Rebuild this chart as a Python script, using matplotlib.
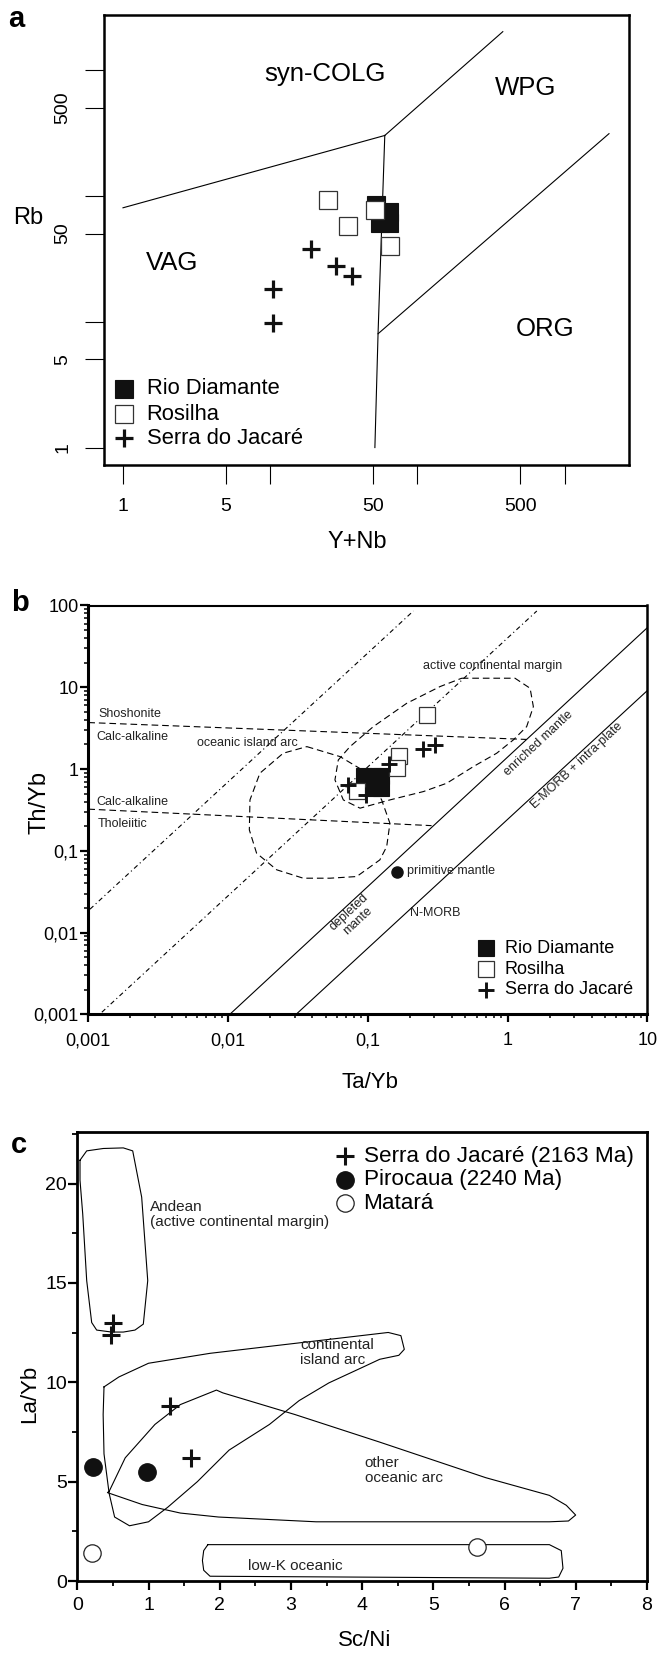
import matplotlib
matplotlib.use("Agg")
import matplotlib.pyplot as plt
from matplotlib.ticker import FixedLocator, NullFormatter

plt.rcParams['font.family'] = ['Liberation Sans', 'DejaVu Sans']

W, H = 660, 1657

# ---------- a: Rb vs Y+Nb ----------
rio_a_x = [52.2, 63.9, 63.9, 55.6]
rio_a_y = [83.8, 74.1, 60.6, 60.6]
ros_a_x = [24.8, 33.9, 51.4, 65.0]
ros_a_y = [93.0, 57.4, 76.4, 39.6]
sj_a_x = [18.9, 27.9, 36.0, 10.5, 10.5]
sj_a_y = [37.5, 27.5, 23.0, 18.3, 9.75]

vag_colg = ([1, 60], [80, 300])
colg_wpg = ([60, 380], [300, 2000])
vag_wpg = ([60, 54, 51.4], [300, 8, 1])
wpg_org = ([54, 2000], [8, 310])

a_ticks = [1, 5, 10, 50, 100, 500, 1000]
a_ticklabels = ['1', '5', '', '50', '', '500', '']

# ---------- b: Th/Yb vs Ta/Yb ----------
rio_b_x = [0.0939, 0.1089, 0.1243, 0.1243, 0.1089, 0.097]
rio_b_y = [0.823, 0.823, 0.823, 0.587, 0.587, 0.621]
ros_b_x = [0.267, 0.167, 0.161, 0.0842]
ros_b_y = [4.58, 1.46, 1.02, 0.545]
sj_b_x = [0.0726, 0.097, 0.1426, 0.249, 0.303]
sj_b_y = [0.639, 0.482, 1.15, 1.75, 1.97]
prim_mantle = (0.161, 0.0557)

dashdot_1 = ([0.001028, 0.212], [0.0193, 85.7])
dashdot_2 = ([0.00125, 1.62], [0.00106, 85.7])
mantle_upper = ([0.0103, 10], [0.001, 53.5])
mantle_lower = ([0.0307, 10], [0.001, 9.1])
shosh_line = ([0.001, 1.37], [3.7, 2.3])
thol_line = ([0.001, 0.286], [0.323, 0.203])

ocean_arc_x = [0.0366, 0.0632, 0.0955, 0.1256, 0.144, 0.1365, 0.122, 0.0833,
               0.0537, 0.0345, 0.0223, 0.0160, 0.0142, 0.01435, 0.0169, 0.0248]
ocean_arc_y = [1.88, 1.42, 0.93, 0.419, 0.217, 0.1125, 0.0774, 0.0484,
               0.0462, 0.0462, 0.0585, 0.0935, 0.180, 0.419, 0.889, 1.56]
acm_x = [0.470, 1.13, 1.45, 1.53, 1.37, 1.10, 0.836, 0.569, 0.367, 0.250,
         0.144, 0.088, 0.0668, 0.0582, 0.0615, 0.0746, 0.1095, 0.190, 0.329]
acm_y = [12.9, 12.9, 9.72, 5.79, 3.30, 2.27, 1.56, 1.07, 0.670, 0.530,
         0.419, 0.332, 0.419, 0.736, 1.29, 1.88, 3.30, 6.37, 10.2]

b_ticks_x = [0.001, 0.01, 0.1, 1, 10]
b_labels_x = ['0,001', '0,01', '0,1', '1', '10']
b_ticks_y = [0.001, 0.01, 0.1, 1, 10, 100]
b_labels_y = ['0,001', '0,01', '0,1', '1', '10', '100']

# ---------- c: La/Yb vs Sc/Ni ----------
sj_c_x = [0.50, 0.47, 1.30, 1.60]
sj_c_y = [13.0, 12.4, 8.8, 6.2]
piro_c_x = [0.226, 0.983]
piro_c_y = [5.76, 5.50]
mat_c_x = [0.208, 5.617]
mat_c_y = [1.43, 1.73]

andean_x = [0.038, 0.132, 0.365, 0.646, 0.778, 0.904, 0.989, 0.927, 0.810,
            0.646, 0.483, 0.272, 0.202, 0.132, 0.076, 0.038]
andean_y = [21.18, 21.65, 21.77, 21.80, 21.65, 19.32, 15.12, 12.93, 12.63,
            12.53, 12.53, 12.63, 13.01, 15.12, 18.48, 20.17]
cont_arc_x = [0.375, 0.584, 1.0, 1.864, 3.055, 4.366, 4.544, 4.592, 4.515, 4.247,
              4.008, 3.532, 3.115, 2.698, 2.132, 1.686, 1.269, 1.0, 0.733, 0.524,
              0.447, 0.375, 0.363]
cont_arc_y = [9.77, 10.27, 10.96, 11.46, 11.96, 12.51, 12.35, 11.66, 11.36, 11.16,
              10.76, 9.97, 9.08, 7.88, 6.59, 5.00, 3.71, 2.98, 2.78, 3.22,
              4.41, 6.40, 8.38]
ocean_c_x = [0.447, 0.673, 1.090, 1.447, 1.954, 2.043, 3.055, 4.247, 5.736, 6.629,
             6.867, 6.998, 6.897, 6.629, 4.842, 3.353, 1.983, 1.447, 0.911, 0.423]
ocean_c_y = [4.51, 6.20, 7.88, 8.88, 9.61, 9.47, 8.38, 6.99, 5.20, 4.31,
             3.81, 3.32, 3.02, 2.98, 2.98, 2.98, 3.22, 3.42, 3.85, 4.45]
lowk_x = [1.834, 6.629, 6.796, 6.82, 6.76, 6.629, 1.864, 1.775, 1.757, 1.775]
lowk_y = [1.83, 1.83, 1.53, 0.64, 0.20, 0.14, 0.24, 0.54, 1.03, 1.53]


def px_box(left, top, right, bottom):
    return [left / W, 1 - bottom / H, (right - left) / W, (bottom - top) / H]


def fig_text(x, y, s, **kw):
    fig.text(x / W, 1 - y / H, s, ha='center', va='center', **kw)


def closed(xs, ys):
    return list(xs) + [xs[0]], list(ys) + [ys[0]]


def legend_rows(ax, rows, mx, tx, ys, size, trans):
    for (style, label), y in zip(rows, ys):
        ax.plot([mx], [y], transform=trans, clip_on=False, **style)
        ax.text(tx, y, label, transform=trans, fontsize=size, va='center', ha='left')


fig = plt.figure(figsize=(W / 100, H / 100), dpi=100)

# ================= panel a =================
ax = fig.add_axes(px_box(104, 15, 629, 465))
ax.set_xscale('log')
ax.set_yscale('log')
ax.set_xlim(0.743, 2735)
ax.set_ylim(0.727, 2712)

for xs, ys in (vag_colg, colg_wpg, vag_wpg, wpg_org):
    ax.plot(xs, ys, color='black', lw=0.8)

sq_fill = dict(marker='s', ms=13, mfc='#111111', mec='#111111', mew=0.8, ls='none')
sq_open = dict(marker='s', ms=13, mfc='white', mec='#333333', mew=0.9, ls='none')
plus_a = dict(marker='+', ms=13, mec='#111111', mew=2.3, ls='none')
ax.plot(rio_a_x, rio_a_y, **sq_fill)
ax.plot(ros_a_x, ros_a_y, **sq_open)
ax.plot(sj_a_x, sj_a_y, **plus_a)

for s, x, y in (('syn-COLG', 23.4, 918), ('WPG', 543, 719),
                ('VAG', 2.14, 28.9), ('ORG', 733, 8.7)):
    ax.text(x, y, s, fontsize=18.5, ha='center', va='center')

ax.xaxis.set_major_locator(FixedLocator(a_ticks))
ax.yaxis.set_major_locator(FixedLocator(a_ticks))
ax.xaxis.set_minor_locator(FixedLocator([]))
ax.yaxis.set_minor_locator(FixedLocator([]))
ax.set_xticklabels(a_ticklabels)
ax.set_yticklabels(a_ticklabels, rotation=90, va='center')
ax.tick_params(direction='out', length=13.5, width=0.8, labelsize=14, pad=10)
for sp in ax.spines.values():
    sp.set_linewidth(1.8)

legend_rows(ax, [(sq_fill, 'Rio Diamante'), (sq_open, 'Rosilha'), (plus_a, 'Serra do Jacaré')],
            0.0386, 0.0813, [0.169, 0.113, 0.0593], 15.8, ax.transAxes)

fig_text(16.7, 18.7, 'a', fontsize=21, fontweight='bold')
fig_text(28.3, 218.3, 'Rb', fontsize=17)
fig_text(357, 541.7, 'Y+Nb', fontsize=17)

# ================= panel b =================
bx = fig.add_axes(px_box(88.3, 605.5, 647.3, 1014.3))
bx.set_xscale('log')
bx.set_yscale('log')
bx.set_xlim(0.001, 10)
bx.set_ylim(0.001, 100)

dd = (0, (4.2, 2.8, 1.0, 2.8))
dash = (0, (6, 3.5))
thin = dict(color='black', lw=0.8)
bx.plot(*dashdot_1, ls=dd, **thin)
bx.plot(*dashdot_2, ls=dd, **thin)
bx.plot(*mantle_upper, **thin)
bx.plot(*mantle_lower, **thin)
bx.plot(*shosh_line, ls=dash, **thin)
bx.plot(*thol_line, ls=dash, **thin)
bx.plot(*closed(ocean_arc_x, ocean_arc_y), ls=dash, **thin)
bx.plot(*closed(acm_x, acm_y), ls=dash, **thin)

bx.plot([prim_mantle[0]], [prim_mantle[1]], 'o', ms=8, color='#111111')

sq_fill_b = dict(sq_fill, ms=11)
sq_open_b = dict(sq_open, ms=11)
plus_b = dict(plus_a, ms=11, mew=2.1)
bx.plot(rio_b_x, rio_b_y, **sq_fill_b)
bx.plot(ros_b_x, ros_b_y, **sq_open_b)
bx.plot(sj_b_x, sj_b_y, **plus_b)

small = dict(fontsize=9, va='center', ha='left', color='#222222')
bx.text(0.00118, 4.72, 'Shoshonite', **small)
bx.text(0.00115, 2.49, 'Calc-alkaline', **small)
bx.text(0.00597, 2.10, 'oceanic island arc', **small)
bx.text(0.00115, 0.399, 'Calc-alkaline', **small)
bx.text(0.00116, 0.213, 'Tholeiitic', **small)
bx.text(0.249, 18.2, 'active continental margin', **small)
bx.text(0.190, 0.0573, 'primitive mantle', **small)
bx.text(0.2004, 0.01755, 'N-MORB', **small)
rot = dict(fontsize=9, va='center', ha='center', rotation=43, color='#222222',
           rotation_mode='anchor')
bx.text(1.66, 2.07, 'enriched mantle', **rot)
bx.text(3.13, 1.10, 'E-MORB + intra-plate', **rot)
bx.text(0.079, 0.0156, 'depleted\nmante', linespacing=1.0, **rot)

bx.xaxis.set_major_locator(FixedLocator(b_ticks_x))
bx.yaxis.set_major_locator(FixedLocator(b_ticks_y))
minor_x = [m * 10.0 ** e for e in range(-3, 1) for m in range(2, 10)]
minor_y = [m * 10.0 ** e for e in range(-3, 2) for m in range(2, 10)]
bx.xaxis.set_minor_locator(FixedLocator(minor_x))
bx.yaxis.set_minor_locator(FixedLocator(minor_y))
bx.xaxis.set_minor_formatter(NullFormatter())
bx.yaxis.set_minor_formatter(NullFormatter())
bx.set_xticklabels(b_labels_x)
bx.set_yticklabels(b_labels_y)
bx.tick_params(which='major', direction='out', length=6, width=1.6, labelsize=13)
bx.tick_params(which='minor', direction='out', length=2.8, width=1.1)
bx.tick_params(axis='y', pad=1)
bx.tick_params(axis='x', pad=7)
for side, lw in (('left', 2.2), ('bottom', 2.2), ('top', 1.5), ('right', 1.8)):
    bx.spines[side].set_linewidth(lw)

legend_rows(bx, [(sq_fill_b, 'Rio Diamante'), (sq_open_b, 'Rosilha'), (plus_b, 'Serra do Jacaré')],
            0.7116, 0.7454, [0.161, 0.110, 0.0597], 13, bx.transAxes)

fig_text(20, 603.3, 'b', fontsize=21, fontweight='bold')
fig_text(40, 803, 'Th/Yb', fontsize=17, rotation=90)
fig_text(370, 1083, 'Ta/Yb', fontsize=16)

# ================= panel c =================
cx = fig.add_axes(px_box(77.3, 1132, 647, 1581))
cx.set_xlim(0, 8)
cx.set_ylim(0, 22.6)

for xs, ys in ((andean_x, andean_y), (cont_arc_x, cont_arc_y),
               (ocean_c_x, ocean_c_y), (lowk_x, lowk_y)):
    cx.plot(*closed(xs, ys), color='black', lw=0.8)

plus_c = dict(marker='+', ms=12.5, mec='#111111', mew=2.2, ls='none')
dot_fill = dict(marker='o', ms=12.5, mfc='#111111', mec='#111111', ls='none')
dot_open = dict(marker='o', ms=12.5, mfc='white', mec='#222222', mew=0.9, ls='none')
cx.plot(sj_c_x, sj_c_y, **plus_c)
cx.plot(piro_c_x, piro_c_y, **dot_fill)
cx.plot(mat_c_x, mat_c_y, **dot_open)

lab = dict(fontsize=11, va='center', ha='left', color='#222222', linespacing=1.1)
cx.text(1.018, 18.45, 'Andean\n(active continental margin)', **lab)
cx.text(3.127, 11.5, 'continental\nisland arc', **lab)
cx.text(4.038, 5.57, 'other\noceanic arc', **lab)
cx.text(2.40, 0.73, 'low-K oceanic', **lab)

cx.xaxis.set_major_locator(FixedLocator(range(0, 9)))
cx.xaxis.set_minor_locator(FixedLocator([i + 0.5 for i in range(8)]))
cx.yaxis.set_major_locator(FixedLocator([0, 5, 10, 15, 20]))
cx.yaxis.set_minor_locator(FixedLocator([2.5, 7.5, 12.5, 17.5, 22.5]))
cx.tick_params(which='major', direction='out', length=6.5, width=1.6, labelsize=14)
cx.tick_params(which='minor', direction='out', length=3.5, width=1.3)
cx.tick_params(axis='y', pad=1)
cx.tick_params(axis='x', pad=5)
for sp in cx.spines.values():
    sp.set_linewidth(2.0)

legend_rows(cx, [(plus_c, 'Serra do Jacaré (2163 Ma)'), (dot_fill, 'Pirocaua (2240 Ma)'),
                 (dot_open, 'Matará')],
            3.76, 4.02, [21.38, 20.2, 19.02], 16.2, cx.transData)

fig_text(19, 1145, 'c', fontsize=21, fontweight='bold')
fig_text(29.8, 1393.8, 'La/Yb', fontsize=16, rotation=90)
fig_text(365, 1640, 'Sc/Ni', fontsize=16)

fig.savefig('out.png', dpi=100)
